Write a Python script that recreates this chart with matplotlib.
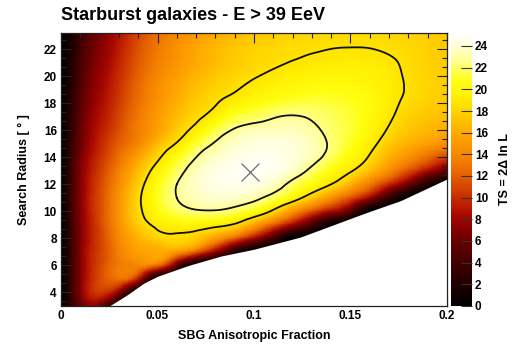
import numpy as np
import matplotlib
matplotlib.use("Agg")
import matplotlib.pyplot as plt
import matplotlib.tri as mtri
from matplotlib.colors import LinearSegmentedColormap
from matplotlib.ticker import MultipleLocator, FixedLocator

plt.rcParams['font.family'] = ['Liberation Sans', 'DejaVu Sans']
plt.rcParams['font.weight'] = 'bold'

# Scan grid: SBG anisotropic fraction (columns) and search radius in degrees (rows)
fraction = [0.0, 0.005, 0.01, 0.02, 0.03, 0.04, 0.05, 0.06, 0.07, 0.08, 0.09,
            0.10, 0.11, 0.12, 0.13, 0.14, 0.15, 0.16, 0.17, 0.18, 0.19, 0.20]
radius = [3, 4, 5, 6, 7, 8, 9, 10, 11, 12, 13, 14, 15, 16, 17, 18, 19, 20, 21, 22, 23.2]

# TS = 2 delta lnL on the grid (one list per search radius)
ts_r03 = [0, 3.0, 5.8, 6.5, 0, 0, 0, 0, 0, 0, 0, 0, 0, 0, 0, 0, 0, 0, 0, 0, 0, 0]
ts_r04 = [0, 3.3, 7.0, 10.5, 7.0, 0, 0, 0, 0, 0, 0, 0, 0, 0, 0, 0, 0, 0, 0, 0, 0, 0]
ts_r05 = [0, 3.4, 7.0, 11.2, 12.8, 9.0, 0, 0, 0, 0, 0, 0, 0, 0, 0, 0, 0, 0, 0, 0, 0, 0]
ts_r06 = [0, 3.4, 7.0, 11.0, 13.3, 14.0, 12.5, 5.5, 0, 0, 0, 0, 0, 0, 0, 0, 0, 0, 0, 0, 0, 0]
ts_r07 = [0, 3.4, 7.0, 10.8, 13.6, 15.5, 16.0, 15.0, 12.0, 7.5, 2.5, 0, 0, 0, 0, 0, 0, 0, 0, 0, 0, 0]
ts_r08 = [0, 3.4, 6.8, 10.8, 14.0, 16.4, 17.8, 18.3, 17.6, 15.2, 12.0, 8.2, 4.0, 0, 0, 0, 0, 0, 0, 0, 0, 0]
ts_r09 = [0, 3.5, 6.8, 11.0, 14.5, 17.6, 19.1, 19.75, 19.8, 19.3, 18.4, 15.6, 12.0, 8.0, 4.2, 0.5, 0, 0, 0, 0, 0, 0]
ts_r10 = [0, 3.6, 7.0, 11.2, 14.8, 18.2, 20.3, 21.7, 22.35, 22.4, 21.8, 20.5, 18.2, 14.8, 11.4, 8.3, 5.0, 0, 0, 0, 0, 0]
ts_r11 = [0, 3.7, 7.1, 11.2, 14.7, 18.3, 20.8, 22.6, 23.5, 23.9, 23.8, 23.1, 21.8, 19.9, 17.3, 14.5, 11.5, 7.8, 3.2, 0, 0, 0]
ts_r12 = [0, 3.7, 7.0, 11.0, 14.3, 17.8, 20.5, 22.6, 23.8, 24.4, 24.6, 24.4, 23.6, 22.0, 20.4, 18.7, 16.3, 13.2, 9.8, 6.0, 2.0, 0]
ts_r13 = [0, 3.6, 6.8, 10.6, 13.6, 16.9, 19.6, 21.8, 23.5, 24.4, 24.8, 24.9, 24.6, 23.7, 22.1, 20.4, 18.9, 16.9, 14.3, 11.5, 8.5, 5.5]
ts_r14 = [0, 3.5, 6.5, 10.1, 12.8, 15.6, 18.3, 20.6, 22.6, 23.8, 24.4, 24.7, 24.65, 24.2, 23.3, 21.8, 20.2, 18.5, 16.3, 14.5, 12.6, 10.8]
ts_r15 = [0, 3.2, 6.0, 9.6, 12.0, 14.0, 16.8, 18.9, 21.2, 22.8, 23.8, 24.2, 24.3, 24.1, 23.5, 22.3, 20.9, 19.4, 17.6, 16.3, 15.3, 14.2]
ts_r16 = [0, 3.0, 5.8, 9.1, 11.4, 13.5, 15.4, 17.6, 19.4, 21.4, 22.8, 23.4, 23.6, 23.5, 23.0, 22.1, 21.2, 19.9, 18.5, 17.3, 16.6, 15.9]
ts_r17 = [0, 2.8, 5.5, 8.7, 11.0, 13.2, 15.2, 16.9, 18.3, 19.6, 21.2, 21.8, 22.45, 22.72, 22.4, 21.8, 21.2, 20.2, 19.0, 17.9, 17.3, 16.8]
ts_r18 = [0, 2.6, 5.2, 8.3, 10.6, 12.8, 14.7, 16.3, 17.6, 18.6, 19.6, 20.4, 21.0, 21.4, 21.5, 21.3, 20.9, 20.3, 19.3, 18.3, 17.8, 17.4]
ts_r19 = [0, 2.4, 4.9, 8.0, 10.3, 12.5, 14.4, 15.9, 17.1, 18.0, 18.6, 19.3, 19.8, 20.2, 20.5, 20.6, 20.4, 20.0, 19.35, 18.55, 18.0, 17.6]
ts_r20 = [0, 2.2, 4.6, 7.7, 10.0, 12.2, 14.0, 15.4, 16.5, 17.4, 18.1, 18.6, 19.1, 19.5, 19.75, 19.9, 19.85, 19.6, 19.2, 18.5, 18.0, 17.6]
ts_r21 = [0, 2.0, 4.3, 7.3, 9.6, 11.8, 13.5, 14.9, 16.0, 16.9, 17.6, 18.1, 18.45, 18.8, 19.05, 19.2, 19.3, 19.2, 18.95, 18.4, 17.9, 17.6]
ts_r22 = [0, 1.8, 4.0, 7.0, 9.3, 11.5, 13.2, 14.6, 15.8, 16.7, 17.4, 17.9, 18.2, 18.45, 18.6, 18.73, 18.78, 18.75, 18.55, 18.25, 17.9, 17.5]
ts_r23 = [0, 1.6, 3.6, 6.6, 8.8, 11.0, 12.7, 14.0, 15.1, 16.0, 16.7, 17.2, 17.6, 17.9, 18.1, 18.2, 18.3, 18.3, 18.2, 17.95, 17.7, 17.4]

# Edge of the allowed parameter region (below it the likelihood is undefined)
edge_fraction = [0.025, 0.034, 0.043, 0.050, 0.066, 0.083, 0.100, 0.124, 0.141, 0.158, 0.176, 0.191, 0.200]
edge_radius = [3.0, 3.8, 4.7, 5.2, 6.0, 6.7, 7.2, 8.1, 9.0, 9.9, 10.8, 11.8, 12.4]

# Best fit and TS levels of the drawn contours
best_fraction, best_radius = 0.098, 12.9
ts_max = 24.9
contour_levels = [ts_max - 6.18, ts_max - 2.3]

ts = np.array([ts_r03, ts_r04, ts_r05, ts_r06, ts_r07, ts_r08, ts_r09, ts_r10,
               ts_r11, ts_r12, ts_r13, ts_r14, ts_r15, ts_r16, ts_r17, ts_r18,
               ts_r19, ts_r20, ts_r21, ts_r22, ts_r23])

# Black-body style palette
pal_pos = [0.0, 2.1, 4.0, 5.8, 7.1, 8.3, 9.5, 10.8, 12.0, 13.3, 14.5, 15.7,
           17.0, 18.2, 19.4, 20.7, 21.9, 23.1, 24.3, 25.2]
pal_col = ['#000000', '#200000', '#420000', '#640000', '#880000', '#a50800',
           '#c02000', '#d24000', '#e45f00', '#f27c00', '#fa9000', '#ffa300',
           '#ffbf00', '#ffd800', '#fff000', '#ffff10', '#ffff60', '#ffffa8',
           '#ffffe0', '#ffffff']
vmax = 25.2
cmap = LinearSegmentedColormap.from_list(
    'blackbody', list(zip([p / vmax for p in pal_pos], pal_col)))

# Smooth rendering of the scan: triangulate in scaled units (fraction in %)
# and let matplotlib refine the field with its cubic interpolator.
X, Y = np.meshgrid(fraction, radius)
grid_tri = mtri.Triangulation(X.ravel() * 100, Y.ravel())
refiner = mtri.UniformTriRefiner(grid_tri)
fine_tri, fine_ts = refiner.refine_field(ts.ravel(), subdiv=3)
fine_ts = np.clip(fine_ts, 0, None)
plot_tri = mtri.Triangulation(fine_tri.x / 100, fine_tri.y, fine_tri.triangles)

W, H = 513, 346
fig = plt.figure(figsize=(W / 100, H / 100), dpi=100)
ax = fig.add_axes([61 / W, 1 - 306 / H, 386 / W, 273 / H])
cax = fig.add_axes([451 / W, 1 - 306 / H, 21 / W, 273 / H])

mesh = ax.tripcolor(plot_tri, fine_ts, cmap=cmap, vmin=0, vmax=vmax,
                    shading='gouraud', rasterized=True, zorder=1)
ax.fill_between(edge_fraction, 2.0, edge_radius, color='white',
                linewidth=0, zorder=2)
ax.tricontour(plot_tri, fine_ts, levels=contour_levels, colors='#111111',
              linewidths=1.3, zorder=3)
ax.plot(best_fraction, best_radius, marker='x', markersize=13,
        markeredgewidth=0.9, color='#6e6e6e', linestyle='none', zorder=4)

ax.set_xlim(0, 0.2)
ax.set_ylim(3, 23.2)
ax.xaxis.set_major_locator(FixedLocator([0, 0.05, 0.1, 0.15, 0.2]))
ax.set_xticklabels(['0', '0.05', '0.1', '0.15', '0.2'])
ax.xaxis.set_minor_locator(MultipleLocator(0.01))
ax.yaxis.set_major_locator(MultipleLocator(2))
ax.yaxis.set_minor_locator(MultipleLocator(2 / 3))
ax.tick_params(which='both', direction='in', top=True, right=True,
               labelsize=8.5, color='#222222', width=0.8, pad=3)
ax.tick_params(which='major', length=7)
ax.tick_params(which='minor', length=3.5)
for s in ax.spines.values():
    s.set_linewidth(0.9)
    s.set_color('#222222')

ax.set_xlabel('SBG Anisotropic Fraction', fontsize=9, fontweight='bold', labelpad=6)
ax.set_ylabel('Search Radius [ ° ]', fontsize=9, fontweight='bold', labelpad=10)

cb = fig.colorbar(mesh, cax=cax)
cb.outline.set_visible(False)
cb.set_ticks(np.arange(0, 25, 2))
cax.tick_params(direction='in', length=8, width=0.8, color='#333333',
                labelsize=8.5, pad=2)
cb.set_label('TS = 2Δ ln L', fontsize=9, fontweight='bold', labelpad=8)

fig.text(61 / W, 1 - 15 / H, 'Starburst galaxies - E > 39 EeV',
         fontsize=13, fontweight='bold', ha='left', va='center')

fig.savefig('out.png', dpi=100)
